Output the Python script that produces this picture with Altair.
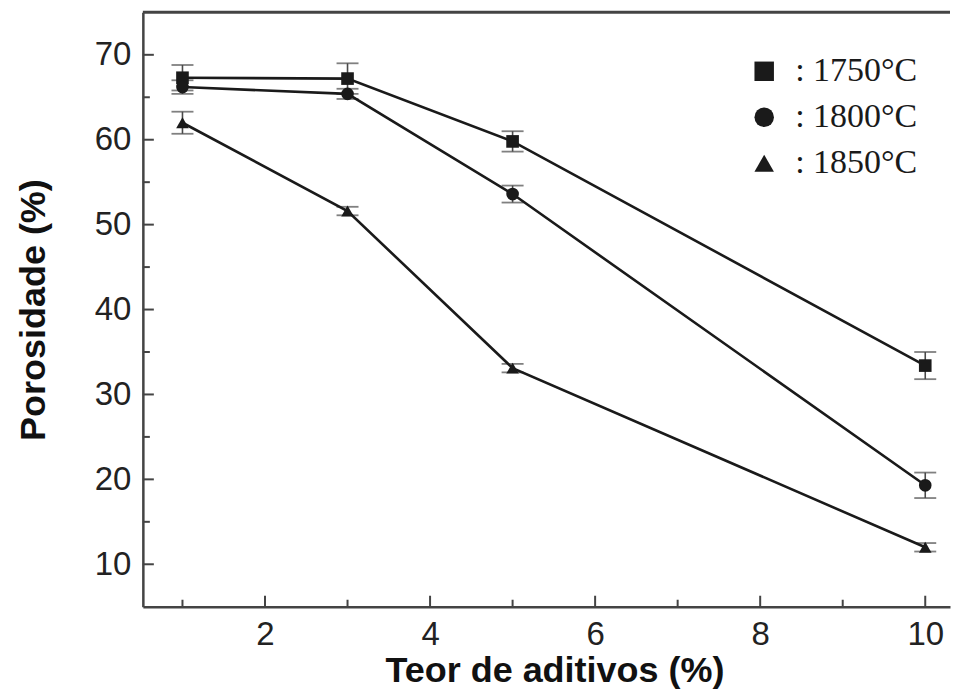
import altair as alt
import pandas as pd

# ---- data ----
x_vals = [1, 3, 5, 10]
series = ["1750", "1800", "1850"]
por_1750 = [67.3, 67.2, 59.8, 33.4]
err_1750 = [1.5, 1.8, 1.2, 1.6]
por_1800 = [66.2, 65.4, 53.6, 19.3]
err_1800 = [0.8, 0.6, 1.0, 1.5]
por_1850 = [62.0, 51.6, 33.1, 12.0]
err_1850 = [1.3, 0.5, 0.5, 0.5]

x_ticks_major = [2, 4, 6, 8, 10]
x_ticks_minor = [1, 3, 5, 7, 9]
y_ticks_major = [10, 20, 30, 40, 50, 60, 70]
y_ticks_minor = [15, 25, 35, 45, 55, 65]

x_title = "Teor de aditivos (%)"
y_title = "Porosidade (%)"

# ---- layout constants ----
XMIN, XMAX = 0.52, 10.3
YMIN, YMAX = 5, 75
W, H = 808, 595
px_x = W / (XMAX - XMIN)
px_y = H / (YMAX - YMIN)
MAJ, MIN = 11, 7
AX = "#444444"
INK = "#1a1a1a"

rows = []
for s, vals, errs in [("1750", por_1750, err_1750),
                      ("1800", por_1800, err_1800),
                      ("1850", por_1850, err_1850)]:
    for x, v, e in zip(x_vals, vals, errs):
        rows.append({"series": s, "x": x, "y": v, "lo": v - e, "hi": v + e})
df = pd.DataFrame(rows)

xt = pd.DataFrame(
    [{"x": t, "y": YMIN, "y2": YMIN + MAJ / px_y} for t in x_ticks_major]
    + [{"x": t, "y": YMIN, "y2": YMIN + MIN / px_y} for t in x_ticks_minor]
)
yt = pd.DataFrame(
    [{"y": t, "x": XMIN, "x2": XMIN + MAJ / px_x} for t in y_ticks_major]
    + [{"y": t, "x": XMIN, "x2": XMIN + MIN / px_x} for t in y_ticks_minor]
)
top = pd.DataFrame([{"x": XMIN, "x2": XMAX, "y": YMAX}])

xs = alt.Scale(domain=[XMIN, XMAX], nice=False, zero=False)
ys = alt.Scale(domain=[YMIN, YMAX], nice=False, zero=False)

x_axis = alt.Axis(orient="bottom", values=x_ticks_major, ticks=False, grid=False,
                  title=x_title, domainColor=AX, domainWidth=2.5,
                  labelFontSize=33, labelPadding=12, titlePadding=2,
                  titleFontSize=36, titleFontWeight="bold", titleX=412)
y_axis = alt.Axis(orient="left", values=y_ticks_major, ticks=False, grid=False,
                  title=y_title, domainColor=AX, domainWidth=2.5,
                  labelFontSize=33, labelPadding=12, titlePadding=42,
                  titleFontSize=36, titleFontWeight="bold")


def X(f="x"):
    return alt.X(f"{f}:Q", scale=xs, axis=x_axis)


def Y(f="y"):
    return alt.Y(f"{f}:Q", scale=ys, axis=y_axis)


xtick = alt.Chart(xt).mark_rule(color=AX, strokeWidth=2).encode(
    x=X(), y=Y(), y2="y2:Q")
ytick = alt.Chart(yt).mark_rule(color=AX, strokeWidth=2).encode(
    x=X(), x2="x2:Q", y=Y())
topline = alt.Chart(top).mark_rule(color=AX, strokeWidth=3).encode(
    x=X(), x2="x2:Q", y=Y())

err = alt.Chart(df).mark_rule(color="#4a4a4a", strokeWidth=1.6).encode(
    x=X(), y=Y("lo"), y2="hi:Q")
cap_lo = alt.Chart(df).mark_tick(color="#4a4a4a", thickness=1.8, size=22,
                                 orient="horizontal").encode(
    x=X(), y=Y("lo"))
cap_hi = alt.Chart(df).mark_tick(color="#4a4a4a", thickness=1.8, size=22,
                                 orient="horizontal").encode(
    x=X(), y=Y("hi"))

lines = alt.Chart(df).mark_line(color=INK, strokeWidth=2.6).encode(
    x=X(), y=Y(), detail="series:N")

points = alt.Chart(df).mark_point(filled=True, size=160, color=INK, opacity=1).encode(
    x=X(), y=Y(),
    shape=alt.Shape("series:N",
                    scale=alt.Scale(domain=series,
                                    range=["square", "circle", "triangle-up"]),
                    legend=alt.Legend(orient="none", legendX=605, legendY=42,
                                      title=None,
                                      labelExpr="': ' + datum.label + '°C'",
                                      labelFont="Liberation Serif",
                                      labelFontSize=34, labelColor=INK,
                                      symbolSize=380, symbolFillColor=INK,
                                      symbolStrokeWidth=0, symbolOpacity=1,
                                      rowPadding=12, labelOffset=14)))

chart = alt.layer(xtick, ytick, topline, err, cap_lo, cap_hi, lines, points).properties(
    width=W, height=H,
    padding={"left": 7, "top": 2, "right": 0, "bottom": 0},
).configure_view(
    stroke="#ffffff"
).configure_axis(
    labelFont="Liberation Sans", titleFont="Liberation Sans",
    labelColor="#222222", titleColor="#111111"
)

chart.save("out.html", embed_options={"renderer": "svg", "actions": False})
